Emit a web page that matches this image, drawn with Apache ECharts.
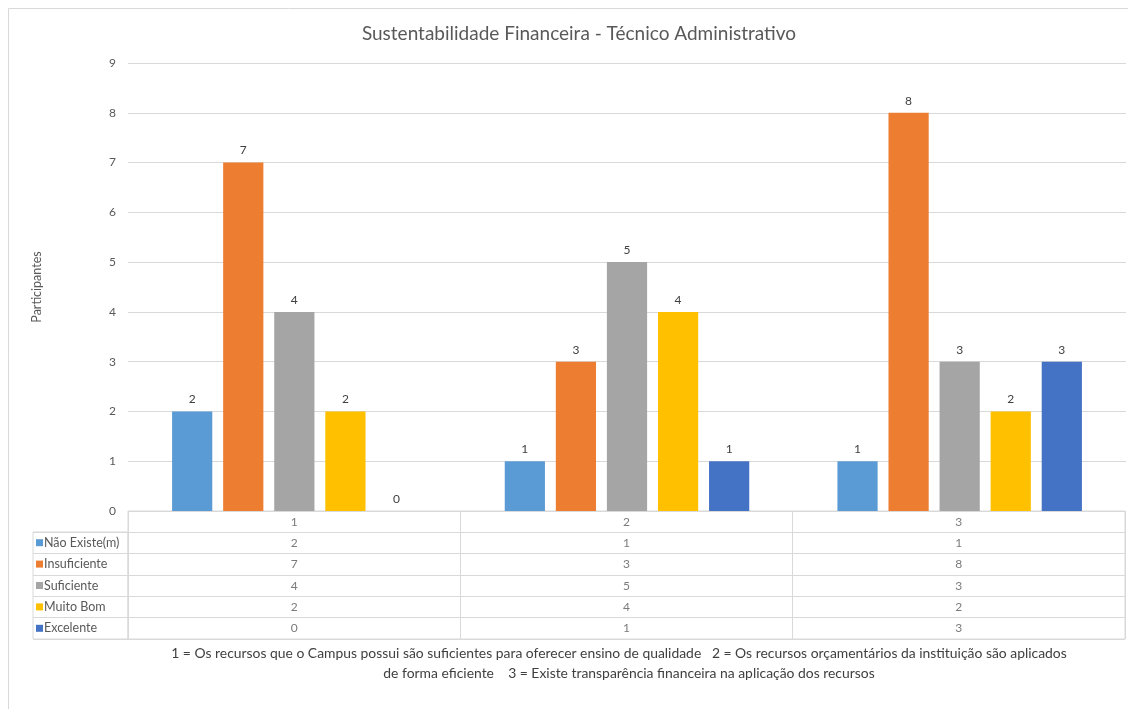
<!DOCTYPE html>
<html>
<head>
<meta charset="utf-8">
<script src="https://cdn.jsdelivr.net/npm/echarts@6/dist/echarts.min.js"></script>
<style>
html,body{margin:0;padding:0;background:#fff;}
#chart{width:1128px;height:709px;}
</style>
</head>
<body>
<div id="chart"></div>
<script>
const categories = ['1', '2', '3'];
const seriesNames = ['Não Existe(m)', 'Insuficiente', 'Suficiente', 'Muito Bom', 'Excelente'];
const naoExiste = [2, 1, 1];
const insuficiente = [7, 3, 8];
const suficiente = [4, 5, 3];
const muitoBom = [2, 4, 2];
const excelente = [0, 1, 3];
const yTicks = [0, 1, 2, 3, 4, 5, 6, 7, 8, 9];
const colors = ['#5B9BD5', '#ED7D31', '#A5A5A5', '#FFC000', '#4472C4'];
const titleText = 'Sustentabilidade Financeira - Técnico Administrativo';
const yName = 'Participantes';
const footer1 = '1 = Os recursos que o Campus possui são suficientes para oferecer ensino de qualidade   2 = Os recursos orçamentários da instituição são aplicados';
const footer2 = 'de forma eficiente    3 = Existe transparência financeira na aplicação dos recursos';

const allValues = [naoExiste, insuficiente, suficiente, muitoBom, excelente];
const FONT = 'Lato';
const TXT = '#595959';
const GRID = '#d9d9d9';

const chart = echarts.init(document.getElementById('chart'), null, {renderer: 'canvas'});

const tableRows = ['__hdr'].concat(seriesNames);
const tableData = [];
categories.forEach((c, ci) => {
  tableData.push([c, '__hdr', c]);
  seriesNames.forEach((n, si) => tableData.push([c, n, allValues[si][ci]]));
});

const rich = {t: {fontFamily: FONT, fontSize: 12.5, color: TXT, padding: [0, 0, 0, 1]}};
colors.forEach((c, i) => { rich['s' + i] = {width: 7, height: 7, backgroundColor: c}; });

const barSeries = seriesNames.map((n, i) => ({
  name: n,
  type: 'bar',
  xAxisIndex: 0,
  yAxisIndex: 0,
  data: allValues[i],
  itemStyle: {color: colors[i]},
  barGap: '27%',
  barCategoryGap: '26.5%',
  label: {show: true, position: 'top', distance: 6, color: '#404040', fontFamily: FONT, fontSize: 12},
  silent: true
}));

chart.setOption({
  backgroundColor: '#fff',
  animation: false,
  textStyle: {fontFamily: FONT},
  title: [
    {text: titleText, left: 574, top: 19, textAlign: 'center',
     textStyle: {fontFamily: FONT, fontSize: 19, fontWeight: 'normal', color: TXT}},
    {text: footer1, left: 614, top: 642, textAlign: 'center',
     textStyle: {fontFamily: FONT, fontSize: 13.9, fontWeight: 'normal', color: '#404040'}},
    {text: footer2, left: 624, top: 662, textAlign: 'center',
     textStyle: {fontFamily: FONT, fontSize: 13.9, fontWeight: 'normal', color: '#404040'}}
  ],
  graphic: [
    {type: 'rect', shape: {x: 8.5, y: 8.5, width: 1140, height: 720}, silent: true,
     style: {fill: 'none', stroke: GRID, lineWidth: 1}}
  ],
  grid: [
    {left: 128, right: 2, top: 63, bottom: 198},
    {left: 128, right: 3, top: 511, height: 128, show: true, borderColor: GRID, borderWidth: 1},
    {left: 33, width: 95, top: 532, height: 107, show: true, borderColor: GRID, borderWidth: 1}
  ],
  xAxis: [
    {type: 'category', gridIndex: 0, data: categories,
     axisLine: {show: false}, axisTick: {show: false}, axisLabel: {show: false}},
    {type: 'category', gridIndex: 1, data: categories,
     axisLine: {show: false}, axisTick: {show: false}, axisLabel: {show: false},
     splitLine: {show: true, interval: 0, lineStyle: {color: GRID, width: 1}}},
    {type: 'value', gridIndex: 2, show: false, min: 0, max: 1}
  ],
  yAxis: [
    {type: 'value', gridIndex: 0, min: 0, max: 9, interval: 1,
     name: yName, nameLocation: 'middle', nameGap: 85, nameRotate: 90,
     nameTextStyle: {fontFamily: FONT, fontSize: 12.5, color: TXT},
     axisLine: {show: false}, axisTick: {show: false},
     axisLabel: {color: TXT, fontFamily: FONT, fontSize: 12, margin: 12,
       formatter: v => (yTicks.indexOf(v) >= 0 ? String(v) : '')},
     splitLine: {lineStyle: {color: GRID, width: 1}}},
    {type: 'category', gridIndex: 1, data: tableRows, inverse: true,
     axisLine: {show: false}, axisTick: {show: false}, axisLabel: {show: false},
     splitLine: {show: true, interval: 0, lineStyle: {color: GRID, width: 1}}},
    {type: 'category', gridIndex: 2, data: seriesNames, inverse: true,
     axisLine: {show: false}, axisTick: {show: false},
     axisLabel: {inside: true, margin: 3, formatter: (v, i) => '{s' + i + '|}{t|' + v + '}', rich: rich},
     splitLine: {show: true, interval: 0, lineStyle: {color: GRID, width: 1}}}
  ],
  series: barSeries.concat([
    {type: 'scatter', xAxisIndex: 1, yAxisIndex: 1, data: tableData, symbolSize: 0, silent: true,
     label: {show: true, position: 'inside', formatter: p => String(p.data[2]),
       color: TXT, fontFamily: FONT, fontSize: 12}}
  ])
});
</script>
</body>
</html>
